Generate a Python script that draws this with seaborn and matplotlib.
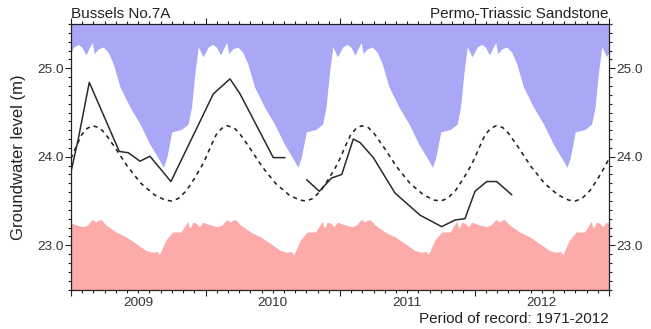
import numpy as np
import pandas as pd
import matplotlib
matplotlib.use("Agg")
import matplotlib.pyplot as plt
import seaborn as sns

# Years shown on the hydrograph
years = [2009, 2010, 2011, 2012]
year_labels = ["2009", "2010", "2011", "2012"]

# Historic maximum level by fraction of the year (m)
max_frac = [0.0, 0.02, 0.054, 0.08, 0.112, 0.141, 0.158, 0.173, 0.203, 0.24,
            0.277, 0.314, 0.364, 0.439, 0.513, 0.587, 0.662, 0.687, 0.712,
            0.749, 0.773, 0.822, 0.871, 0.896, 0.921, 0.946, 0.96, 0.98, 1.0]
max_level = [25.18, 25.24, 25.27, 25.24, 25.15, 25.245, 25.29, 25.165, 25.22,
             25.24, 25.18, 25.05, 24.79, 24.56, 24.37, 24.14, 23.95, 23.88,
             23.99, 24.28, 24.29, 24.31, 24.37, 24.56, 24.94, 25.24, 25.2,
             25.13, 25.18]

# Historic minimum level by fraction of the year (m)
min_frac = [0.0, 0.037, 0.087, 0.124, 0.145, 0.161, 0.185, 0.199, 0.223, 0.26,
            0.335, 0.409, 0.483, 0.558, 0.607, 0.64, 0.657, 0.682, 0.706,
            0.756, 0.818, 0.868, 0.88, 0.892, 0.905, 0.929, 0.955, 0.979, 1.0]
min_level = [23.25, 23.23, 23.21, 23.23, 23.27, 23.29, 23.26, 23.28, 23.29,
             23.23, 23.15, 23.095, 23.02, 22.94, 22.92, 22.93, 22.895, 22.98,
             23.06, 23.15, 23.15, 23.27, 23.2, 23.21, 23.26, 23.25, 23.21,
             23.26, 23.25]

# Long-term average level by fraction of the year (m)
avg_frac = [0.0, 0.04, 0.08, 0.12, 0.16, 0.21, 0.25, 0.32, 0.42, 0.52, 0.62,
            0.70, 0.75, 0.80, 0.86, 0.92, 0.97, 1.0]
avg_level = [23.98, 24.12, 24.25, 24.32, 24.35, 24.33, 24.27, 24.12, 23.89,
             23.70, 23.57, 23.51, 23.50, 23.53, 23.62, 23.76, 23.89, 23.98]

# Observed groundwater levels (decimal year, m), two continuous records
obs_date = [2009.0, 2009.054, 2009.136, 2009.359, 2009.426, 2009.513, 2009.587,
            2009.743, 2010.058, 2010.182, 2010.257, 2010.504, 2010.591,
            2010.752, 2010.846, 2010.938, 2011.013, 2011.099, 2011.149,
            2011.248, 2011.409, 2011.595, 2011.756, 2011.855, 2011.929,
            2012.004, 2012.091, 2012.165, 2012.277]
obs_level = [23.83, 24.20, 24.84, 24.06, 24.045, 23.95, 24.006, 23.72, 24.71,
             24.88, 24.71, 23.99, 23.99,
             23.74, 23.61, 23.76, 23.80, 24.20, 24.16, 23.99, 23.59, 23.34,
             23.21, 23.285, 23.30, 23.61, 23.72, 23.72, 23.57]
obs_record = [1] * 13 + [2] * 16

sns.set_theme(style="ticks")
plt.rcParams["font.family"] = ["Liberation Sans", "DejaVu Sans"]


def repeat_years(frac, level):
    x = np.concatenate([y + np.asarray(frac) for y in years])
    v = np.concatenate([np.asarray(level) for _ in years])
    return x, v


max_x, max_v = repeat_years(max_frac, max_level)
min_x, min_v = repeat_years(min_frac, min_level)
avg_x, avg_v = repeat_years(avg_frac, avg_level)
avg_df = pd.DataFrame({"date": avg_x, "level": avg_v})
obs_df = pd.DataFrame({"date": obs_date, "level": obs_level, "record": obs_record})

fig = plt.figure(figsize=(6.51, 3.29), dpi=100)
ax = fig.add_axes([71 / 651, 1 - 289.5 / 329, 538 / 651, 265.5 / 329])

ymin, ymax = 22.5, 25.5
ax.fill_between(max_x, max_v, ymax + 1, color="#a8a8f7", lw=0, zorder=1)
ax.fill_between(min_x, ymin - 1, min_v, color="#fcaaaa", lw=0, zorder=1)

sns.lineplot(data=avg_df, x="date", y="level", ax=ax, color="#222222",
             lw=1.15, linestyle=(0, (2.6, 2.6)), zorder=3)
sns.lineplot(data=obs_df, x="date", y="level", units="record", estimator=None,
             ax=ax, color="#2a2a2a", lw=1.1, zorder=4)

ax.set_xlim(years[0], years[-1] + 1)
ax.set_ylim(ymin, ymax)
ax.set_xlabel("")
ax.set_ylabel("Groundwater level (m)", fontsize=12, color="#222222", labelpad=8)

ax.set_xticks(np.arange(years[0], years[-1] + 2))
ax.set_xticks(np.arange(years[0], years[-1] + 1 + 1e-9, 1 / 12), minor=True)
ax.set_yticks([23.0, 24.0, 25.0])
ax.set_yticklabels(["23.0", "24.0", "25.0"])
ax.set_yticks(np.arange(22.5, 25.5 + 1e-9, 0.1), minor=True)

ax.tick_params(which="both", direction="out", top=True, right=True,
               labelbottom=False, labelleft=True, labelright=True,
               colors="#222222", labelcolor="#333333", labelsize=9.7, width=0.8)
ax.tick_params(which="major", length=4, pad=1.5)
ax.tick_params(which="minor", length=2)

for s in ax.spines.values():
    s.set_color("#222222")
    s.set_linewidth(0.9)

for y, lab in zip(years, year_labels):
    ax.annotate(lab, xy=(y + 0.5, 0), xycoords=("data", "axes fraction"),
                xytext=(0, -5.5), textcoords="offset points", ha="center",
                va="top", fontsize=9.7, color="#333333")

ax.text(0.0, 1.012, "Bussels No.7A", transform=ax.transAxes, ha="left",
        va="bottom", fontsize=11, color="#222222")
ax.text(1.0, 1.012, "Permo-Triassic Sandstone", transform=ax.transAxes,
        ha="right", va="bottom", fontsize=11, color="#222222")
ax.annotate("Period of record: 1971-2012", xy=(1.0, 0), xycoords="axes fraction",
            xytext=(0, -16), textcoords="offset points", ha="right", va="top",
            fontsize=11, color="#222222")

fig.savefig("out.png", dpi=100)
